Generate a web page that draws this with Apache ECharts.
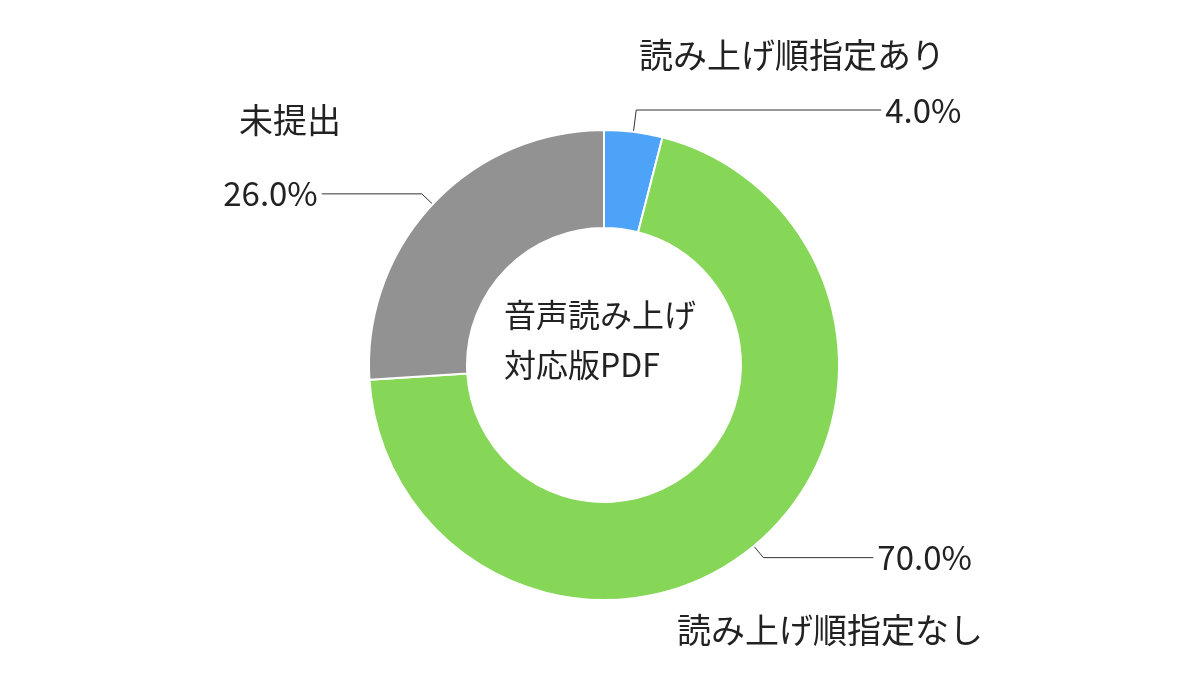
<!DOCTYPE html>
<html><head><meta charset="utf-8">
<script src="https://cdn.jsdelivr.net/npm/echarts@6/dist/echarts.min.js"></script>
<style>html,body{margin:0;background:#fff}#c{width:1200px;height:680px}</style>
</head><body><div id="c"></div>
<script>
const categories = ['読み上げ順指定あり', '読み上げ順指定なし', '未提出'];
const values = [4.0, 70.0, 26.0];
const colors = ['#4da3f7', '#86d657', '#929292'];
const centerTitle = '音声読み上げ\n対応版PDF';
const font = '"Noto Sans CJK JP", "Noto Sans", sans-serif';
const namePos = [{x:792,y:55,align:'center'},{x:830,y:630,align:'center'},{x:290,y:120,align:'center'}];
const lineCfg = [[22,245],[15,110],[15,100]];
const chart = echarts.init(document.getElementById('c'));
const data = categories.map((n,i)=>({name:n,value:values[i],itemStyle:{color:colors[i]},
  labelLine:{length:lineCfg[i][0],length2:lineCfg[i][1]}}));
chart.setOption({
  animation:false,
  graphic:[{type:'text',left:'center',top:'center',style:{text:centerTitle,font:'32px '+font,fill:'#222',align:'center',lineHeight:50}}],
  series:[{
    type:'pie',center:[604,365],radius:[137,235],startAngle:90,clockwise:true,
    data:data,
    itemStyle:{borderColor:'#fff',borderWidth:2},
    label:{show:true,position:'outside',formatter:p=>p.value.toFixed(1)+'%',fontSize:33,fontFamily:font,color:'#222',distanceToLabelLine:4},
    labelLine:{show:true,lineStyle:{color:'#333',width:1}}
  },{
    type:'pie',center:[604,365],radius:[137,235],startAngle:90,silent:true,z:1,
    data:categories.map((n,i)=>({name:n,value:values[i]})),
    itemStyle:{color:'transparent'},
    label:{show:true,position:'outside',formatter:'{b}',fontSize:34,fontFamily:font,color:'#222'},
    labelLine:{show:false},
    labelLayout:p=>({x:namePos[p.dataIndex].x,y:namePos[p.dataIndex].y,align:namePos[p.dataIndex].align,verticalAlign:'middle'})
  }]
});
</script></body></html>
